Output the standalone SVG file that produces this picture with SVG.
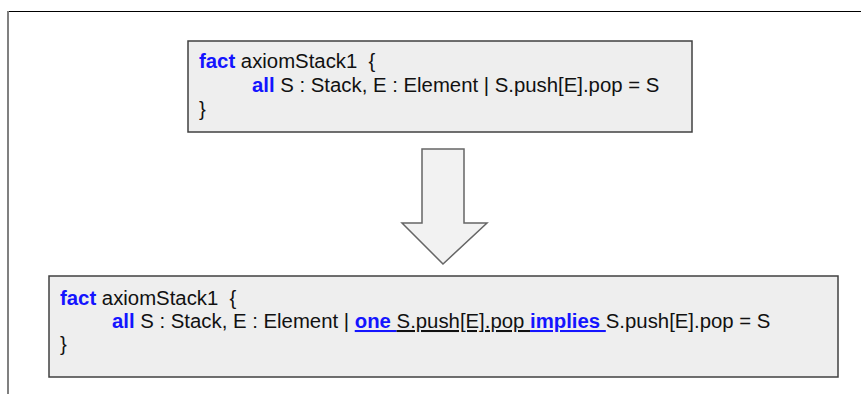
<svg xmlns="http://www.w3.org/2000/svg" width="861" height="394" viewBox="0 0 861 394">
  <style>
    .frame-top { stroke: #000; stroke-width: 1.2; fill: none; }
    .frame-left { stroke: #808080; stroke-width: 2; fill: none; }
    .box { fill: #eeeeee; stroke: #404040; stroke-width: 1.5; }
    .code { font-family: "Liberation Sans", Arial, Helvetica, sans-serif; font-size: 20.35px; fill: #111; white-space: pre; }
    .kw { fill: #1414ff; font-weight: bold; }
    .ul { text-decoration: underline; }
    .arrow { fill: #f2f2f2; stroke: #666; stroke-width: 1.5; stroke-linejoin: miter; }
  </style>

  <!-- page frame -->
  <line class="frame-top" x1="8" y1="11.5" x2="861" y2="11.5"/>
  <line class="frame-left" x1="8" y1="11" x2="8" y2="394"/>

  <!-- original fact -->
  <g id="fact-original">
    <rect class="box" x="188" y="41" width="504" height="91"/>
    <text class="code" x="199" y="68"><tspan class="kw">fact</tspan> axiomStack1  {</text>
    <text class="code" x="252" y="92"><tspan class="kw">all</tspan> S : Stack, E : Element | S.push[E].pop = S</text>
    <text class="code" x="199" y="116">}</text>
  </g>

  <!-- transformation arrow -->
  <g id="connectors">
    <polygon class="arrow" points="422,149 464,149 464,223 487,223 443,264 402,223 422,223"/>
  </g>

  <!-- rewritten fact -->
  <g id="fact-rewritten">
    <rect class="box" x="49" y="276" width="789" height="101"/>
    <text class="code" x="60" y="305"><tspan class="kw">fact</tspan> axiomStack1  {</text>
    <text class="code" x="112" y="328"><tspan class="kw">all</tspan> S : Stack, E : Element | <tspan class="kw ul">one </tspan><tspan class="ul">S.push[E].pop </tspan><tspan class="kw ul">implies </tspan>S.push[E].pop = S</text>
    <text class="code" x="60" y="351">}</text>
  </g>
</svg>
